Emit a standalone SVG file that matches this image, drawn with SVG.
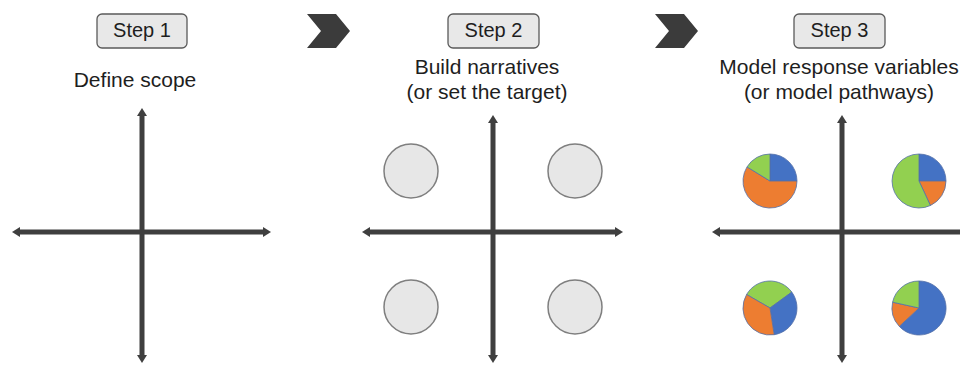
<svg xmlns="http://www.w3.org/2000/svg" width="960" height="365" viewBox="0 0 960 365">
<style>
.step rect{fill:#e8e8e8;stroke:#5a5a5a;stroke-width:1.3}
text{font-family:"Liberation Sans",Arial,sans-serif;fill:#1e1e1e;text-anchor:middle}
.st{font-size:20px}
.ds{font-size:21px}
.chev{fill:#3b3b3b}
.axis{stroke:#3f3f3f;stroke-width:5;fill:none;marker-start:url(#ah);marker-end:url(#ah)}
.circ{fill:#e7e7e7;stroke:#7f7f7f;stroke-width:1.5}
.pie path{stroke:#5470a8;stroke-width:0.8;stroke-linejoin:round}
.b{fill:#4472c4}.o{fill:#ed7d31}.g{fill:#92d050}
</style>
<defs>
<marker id="ah" viewBox="0 0 8 10" refX="2" refY="5" markerWidth="8" markerHeight="10" markerUnits="userSpaceOnUse" orient="auto-start-reverse">
<path d="M0,0 L8,5 L0,10 Z" fill="#3f3f3f"/>
</marker>
</defs>

<rect width="960" height="365" fill="#ffffff"/>

<g id="step1">
<g class="step"><rect x="97" y="14" width="90" height="34" rx="5"/><text class="st" x="142" y="37">Step 1</text></g>
<text class="ds" x="135" y="87">Define scope</text>
</g>

<g id="chevron1"><polygon class="chev" points="307,14 336,14 350,31 336,48 307,48 321,31"/></g>

<g id="step2">
<g class="step"><rect x="448" y="14" width="91" height="34" rx="5"/><text class="st" x="493.5" y="37">Step 2</text></g>
<text class="ds" x="487" y="74">Build narratives</text>
<text class="ds" x="487" y="99">(or set the target)</text>
</g>

<g id="chevron2"><polygon class="chev" points="655,14 684,14 698,31 684,48 655,48 669,31"/></g>

<g id="step3">
<g class="step"><rect x="794" y="14" width="91" height="34" rx="5"/><text class="st" x="839.5" y="37">Step 3</text></g>
<text class="ds" x="839" y="74">Model response variables</text>
<text class="ds" x="839" y="99">(or model pathways)</text>
</g>

<g id="connectors">
<line class="axis" x1="142" y1="114" x2="142" y2="357"/>
<line class="axis" x1="18" y1="232" x2="265" y2="232"/>
<line class="axis" x1="493" y1="121" x2="493" y2="357"/>
<line class="axis" x1="368" y1="232" x2="617" y2="232"/>
<line class="axis" x1="842" y1="121" x2="842" y2="357"/>
<line class="axis" x1="718" y1="232" x2="975" y2="232"/>
</g>

<g id="narratives">
<circle class="circ" cx="411" cy="171" r="27"/>
<circle class="circ" cx="575" cy="171" r="27"/>
<circle class="circ" cx="411" cy="307" r="27"/>
<circle class="circ" cx="575" cy="307" r="27"/>
</g>

<g id="pie-tl" class="pie">
<path class="b" d="M770,181 L770,154 A27,27 0 0,1 797,181 Z"/>
<path class="o" d="M770,181 L797,181 A27,27 0 1,1 747,166.9 Z"/>
<path class="g" d="M770,181 L747,166.9 A27,27 0 0,1 770,154 Z"/>
</g>
<g id="pie-tr" class="pie">
<path class="b" d="M919,181 L919,154 A27,27 0 0,1 946,181 Z"/>
<path class="o" d="M919,181 L946,181 A27,27 0 0,1 930.4,205.5 Z"/>
<path class="g" d="M919,181 L930.4,205.5 A27,27 0 1,1 919,154 Z"/>
</g>
<g id="pie-bl" class="pie">
<path class="g" d="M770,308 L746.6,294.5 A27,27 0 0,1 791.8,292.1 Z"/>
<path class="b" d="M770,308 L791.8,292.1 A27,27 0 0,1 774.2,334.7 Z"/>
<path class="o" d="M770,308 L774.2,334.7 A27,27 0 0,1 746.6,294.5 Z"/>
</g>
<g id="pie-br" class="pie">
<path class="b" d="M919,308 L919,281 A27,27 0 1,1 899.3,326.4 Z"/>
<path class="o" d="M919,308 L899.3,326.4 A27,27 0 0,1 892.6,302.2 Z"/>
<path class="g" d="M919,308 L892.6,302.2 A27,27 0 0,1 919,281 Z"/>
</g>
</svg>
